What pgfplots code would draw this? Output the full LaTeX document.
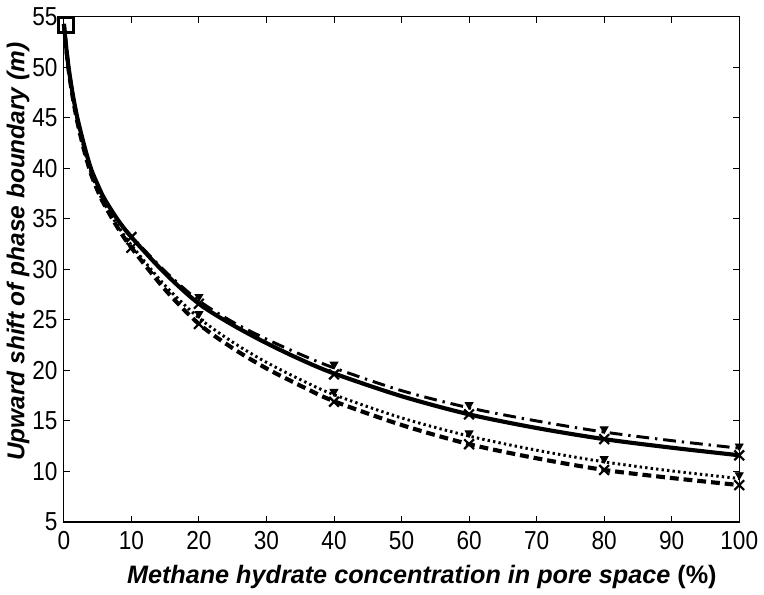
\documentclass[border=0pt]{standalone}
\usepackage{pgfplots}
\pgfplotsset{compat=1.18}
\usepackage{fontspec}
\setmainfont{Liberation Sans}
\newfontfamily\tickfont[FakeStretch=0.87]{Liberation Sans}
\begin{document}
\begin{tikzpicture}
\begin{axis}[
  width=343pt, height=256.5pt, scale only axis,
  xmin=0, xmax=100, ymin=5, ymax=55,
  xtick={0,10,...,100}, ytick={5,10,...,55},
  tick align=inside, major tick length=3pt,
  tick style={black, line width=0.5pt},
  axis line style={line width=0.6pt},
  every tick label/.style={font=\tickfont\fontsize{13.2}{15}\selectfont, inner sep=3pt},
  xticklabel style={yshift=-1.5pt},
  /pgf/number format/assume math mode=true,
  xlabel={\bfseries\itshape Methane hydrate concentration in pore space \textup{(\%)}},
  ylabel={\bfseries\itshape Upward shift of phase boundary (m)},
  xlabel style={font=\fontsize{12.8}{15}\selectfont, at={(axis description cs:0.53,-0.108)}, anchor=center},
  ylabel style={font=\fontsize{12.4}{14}\selectfont, at={(axis description cs:-0.068,0.535)}, anchor=center},
  clip=false,
]
\path (rel axis cs:-0.092,-0.137) rectangle (rel axis cs:1.03,1.0335);
% solid
\addplot[black, line width=2.1pt, smooth] coordinates {
(0,54.3)(0.3,52.3)(0.7,50)(1.3,47.4)(2,45)(3,42.3)(4,40)(5,38.4)(6,37)(8,34.9)(10,33.2)(15,29.6)(20,26.6)(25,24.5)(30,22.7)(35,21.1)(40,19.7)(50,17.45)(60,15.65)(70,14.3)(80,13.2)(90,12.35)(100,11.6)};
% dash-dot
\addplot[black, line width=1.5pt, smooth, dash pattern=on 6.5pt off 3pt on 1.2pt off 3pt] coordinates {
(0,54.3)(0.3,52.3)(0.7,50)(1.3,47.4)(2,45)(3,42.3)(4,40)(5,38.4)(6,37)(8,34.9)(10,33.3)(15,29.8)(20,26.9)(25,24.8)(30,23.1)(35,21.6)(40,20.25)(50,18.0)(60,16.3)(70,15.0)(80,13.9)(90,13.05)(100,12.3)};
% dotted
\addplot[black, line width=1.5pt, smooth, dash pattern=on 1.2pt off 1.6pt] coordinates {
(0,54.3)(0.3,52.2)(0.7,49.9)(1.3,47.2)(2,44.7)(3,41.9)(4,39.6)(5,37.9)(6,36.5)(8,34.3)(10,32.4)(15,28.4)(20,25.2)(25,22.8)(30,20.8)(35,19.1)(40,17.6)(50,15.3)(60,13.5)(70,12.1)(80,10.95)(90,10.05)(100,9.3)};
% dashed
\addplot[black, line width=2.1pt, smooth, dash pattern=on 4.5pt off 2.5pt] coordinates {
(0,54.3)(0.3,52.2)(0.7,49.8)(1.3,47.1)(2,44.6)(3,41.8)(4,39.5)(5,37.8)(6,36.4)(8,34.1)(10,32.15)(15,28.0)(20,24.6)(25,22.2)(30,20.2)(35,18.5)(40,16.95)(50,14.6)(60,12.7)(70,11.3)(80,10.15)(90,9.35)(100,8.65)};
% markers
\addplot[only marks, mark=x, mark size=3.5pt, mark options={line width=1.1pt, black}] coordinates {
(10,33.2)(20,26.6)(40,19.6)(60,15.65)(80,13.2)(100,11.6)};
\addplot[only marks, mark=x, mark size=3.5pt, mark options={line width=1.1pt, black}] coordinates {
(10,32.15)(20,24.6)(40,16.9)(60,12.7)(80,10.15)(100,8.65)};
\addplot[only marks, mark=triangle*, mark size=2.3pt, mark options={black, fill=black, rotate=180}] coordinates {
(20,27.3)(40,20.6)(60,16.6)(80,14.2)(100,12.5)};
\addplot[only marks, mark=triangle*, mark size=2.3pt, mark options={black, fill=black, rotate=180}] coordinates {
(20,25.6)(40,17.9)(60,13.8)(80,11.25)(100,9.65)};
\addplot[only marks, mark=square, mark size=3.75pt, mark options={line width=1.5pt, black}] coordinates {(0.3,54.2)};
\end{axis}
\end{tikzpicture}
\end{document}
